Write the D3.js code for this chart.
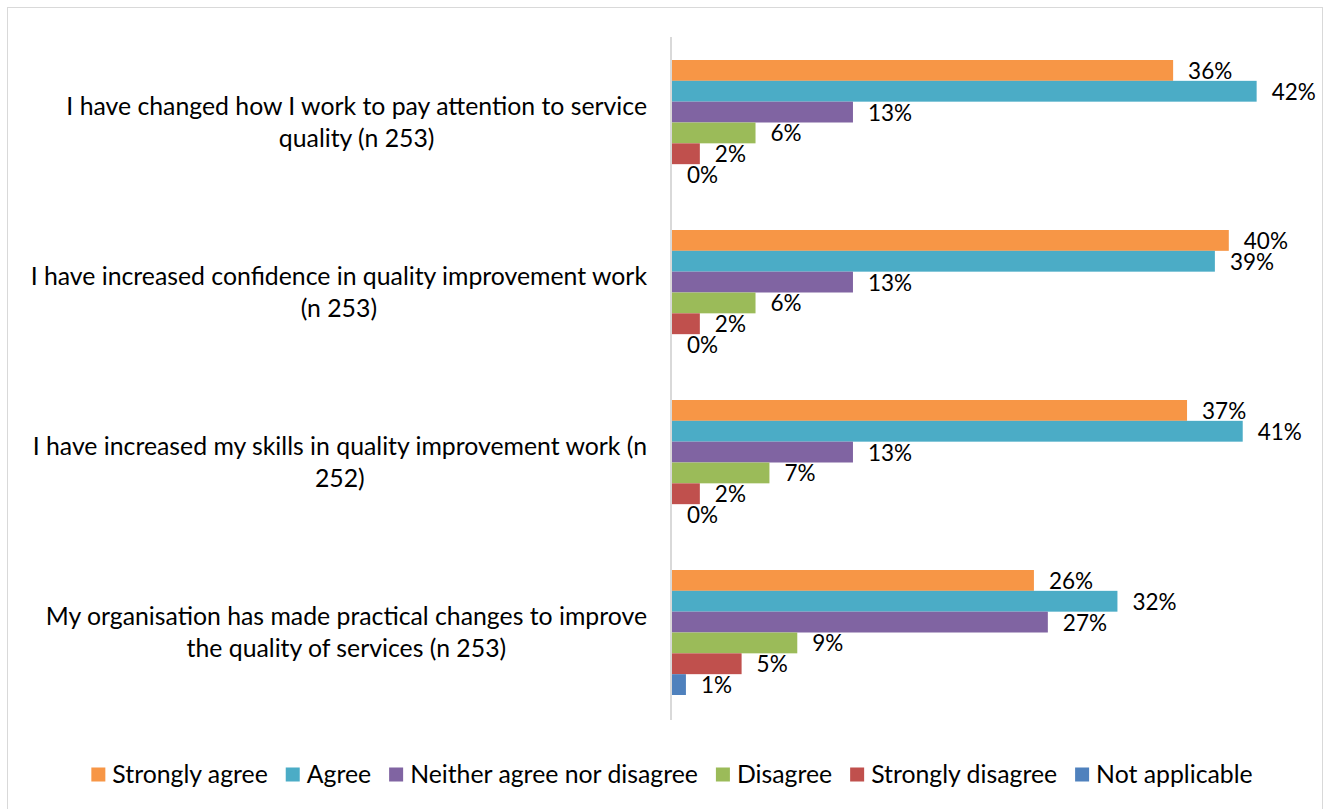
<!DOCTYPE html>
<html>
<head>
<meta charset="utf-8">
<script src="https://cdn.jsdelivr.net/npm/d3@7"></script>
<style>
  html, body { margin: 0; padding: 0; background: #fff; }
  svg { display: block; }
  text { font-family: Lato, "Liberation Sans", sans-serif; fill: #000; }
</style>
</head>
<body>
<svg id="chart" width="1328" height="809"></svg>
<script>
// Survey statements (each entry is the label split into its display lines)
const categories = [
  ["I have changed how I work to pay attention to service", "quality (n 253)"],
  ["I have increased confidence in quality improvement work", "(n 253)"],
  ["I have increased my skills in quality improvement work (n", "252)"],
  ["My organisation has made practical changes to improve", "the quality of services (n 253)"]
];

// Response options, in bar order within each statement
const responses = ["Strongly agree", "Agree", "Neither agree nor disagree", "Disagree", "Strongly disagree", "Not applicable"];
const colors = ["#F79646", "#4BACC6", "#8064A2", "#9BBB59", "#C0504D", "#4F81BD"];

// Percentage of respondents per response option, one array per statement
const changedHowIWork = [36, 42, 13, 6, 2, 0];
const increasedConfidence = [40, 39, 13, 6, 2, 0];
const increasedSkills = [37, 41, 13, 7, 2, 0];
const organisationChanges = [26, 32, 27, 9, 5, 1];
const values = [changedHowIWork, increasedConfidence, increasedSkills, organisationChanges];

const svg = d3.select("#chart");

// Chart-area frame
svg.append("rect")
  .attr("x", 7.5).attr("y", 7.5)
  .attr("width", 1315).attr("height", 810)
  .attr("fill", "#fff").attr("stroke", "#d9d9d9").attr("stroke-width", 1);

const plot = { left: 672, top: 38, bottom: 718 };

const x = d3.scaleLinear().domain([0, 45]).range([plot.left, plot.left + 45 * 13.92]);
const y = d3.scaleBand().domain(d3.range(categories.length)).range([plot.top, plot.bottom]).padding(0);
const inner = d3.scaleBand().domain(responses).range([22, y.bandwidth() - 23]).padding(0);

const labelSize = 24.8;
const valueSize = 22.5;

// Bars and value labels
const groups = svg.selectAll("g.cat")
  .data(values)
  .join("g")
  .attr("class", "cat")
  .attr("transform", (d, i) => `translate(0,${y(i)})`);

groups.selectAll("rect")
  .data(d => d.map((v, j) => ({ v, r: responses[j], c: colors[j] })))
  .join("rect")
  .attr("x", x(0))
  .attr("y", d => inner(d.r))
  .attr("width", d => x(d.v) - x(0))
  .attr("height", inner.bandwidth())
  .attr("fill", d => d.c);

groups.selectAll("text.val")
  .data(d => d.map((v, j) => ({ v, r: responses[j] })))
  .join("text")
  .attr("class", "val")
  .attr("x", d => x(d.v) + 15)
  .attr("y", d => inner(d.r) + inner.bandwidth() / 2 + 8.5)
  .attr("font-size", valueSize)
  .text(d => d.v + "%");

// Category axis line
svg.append("line")
  .attr("x1", plot.left - 1).attr("x2", plot.left - 1)
  .attr("y1", plot.top - 1).attr("y2", plot.bottom + 2)
  .attr("stroke", "#d9d9d9").attr("stroke-width", 2);

// Category labels: each block right-aligned to the axis, lines centred within it
const labelRight = 647;
const lineH = 32;
categories.forEach((lines, i) => {
  const g = svg.append("g");
  const texts = lines.map(l => g.append("text").attr("font-size", labelSize).text(l));
  const maxW = d3.max(texts, t => t.node().getComputedTextLength());
  const cx = labelRight - maxW / 2;
  const cy = y(i) + y.bandwidth() / 2;
  const first = cy - (lines.length - 1) * lineH / 2 + 8;
  texts.forEach((t, k) => t.attr("x", cx).attr("y", first + k * lineH).attr("text-anchor", "middle"));
});

// Legend, centred under the chart
const legend = svg.append("g");
const sw = 14, gapText = 7, gapItem = 18;
let cursor = 0;
responses.forEach((r, j) => {
  const item = legend.append("g").attr("transform", `translate(${cursor},0)`);
  item.append("rect").attr("x", 0).attr("y", -7).attr("width", sw).attr("height", sw).attr("fill", colors[j]);
  const t = item.append("text").attr("x", sw + gapText).attr("y", 8.5).attr("font-size", labelSize).text(r);
  cursor += sw + gapText + t.node().getComputedTextLength() + gapItem;
});
const legendW = cursor - gapItem;
legend.attr("transform", `translate(${672 - legendW / 2},774.5)`);
</script>
</body>
</html>
